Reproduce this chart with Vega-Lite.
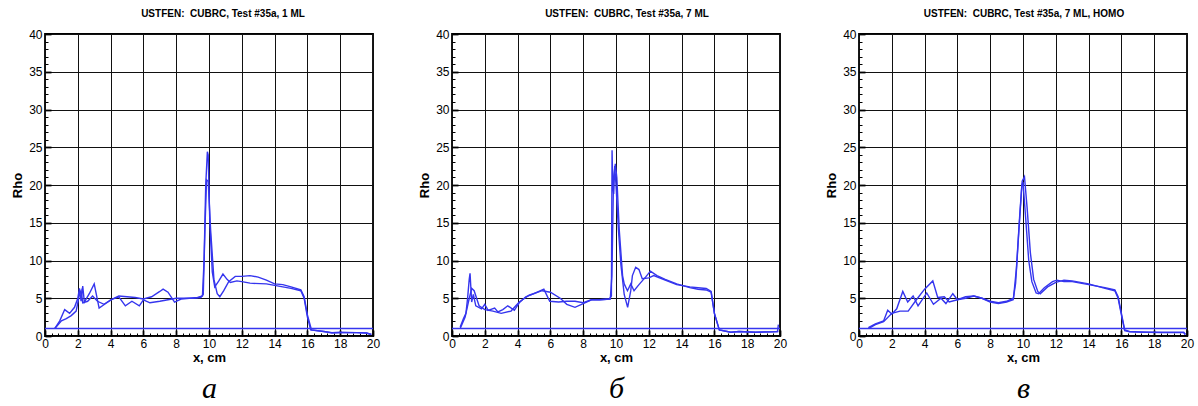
{
"$schema":"https://vega.github.io/schema/vega-lite/v6.json",
"autosize":{"type":"pad"},
"padding":{"left":10,"top":8,"right":0,"bottom":0},
"bounds":"flush",
"spacing":79,
"background":"white",
"config":{
 "view":{"stroke":"black","strokeWidth":1.8},
 "title":{"font":"Liberation Sans","fontSize":10,"fontWeight":"bold","color":"black","offset":9,"anchor":"middle"},
 "axis":{"labelFont":"Liberation Sans","labelFontSize":12,"labelColor":"black","labelFlush":false,"labelOverlap":false,"titleFont":"Liberation Sans","titleFontSize":13,"titleFontWeight":"bold","titleColor":"black","domain":false,"tickColor":"black","gridColor":"#111","gridOpacity":1,"gridWidth":1}
},
"datasets":{"d":[
{"p":"a","s":"base","x":0,"rho":1},{"p":"a","s":"base","x":20,"rho":1},
{"p":"b","s":"base","x":0,"rho":1},{"p":"b","s":"base","x":20,"rho":1},
{"p":"c","s":"base","x":0,"rho":1},{"p":"c","s":"base","x":20,"rho":1},
{"p":"a","s":"1","x":0.6,"rho":1.0},{"p":"a","s":"1","x":0.9,"rho":2.0},{"p":"a","s":"1","x":1.2,"rho":3.5},{"p":"a","s":"1","x":1.5,"rho":3.0},{"p":"a","s":"1","x":1.8,"rho":3.8},{"p":"a","s":"1","x":2.0,"rho":5.0},{"p":"a","s":"1","x":2.1,"rho":6.3},{"p":"a","s":"1","x":2.2,"rho":4.6},{"p":"a","s":"1","x":2.3,"rho":6.6},{"p":"a","s":"1","x":2.4,"rho":4.5},{"p":"a","s":"1","x":2.7,"rho":5.6},{"p":"a","s":"1","x":3.0,"rho":6.9},{"p":"a","s":"1","x":3.3,"rho":3.7},{"p":"a","s":"1","x":3.7,"rho":4.3},{"p":"a","s":"1","x":4.2,"rho":5.0},{"p":"a","s":"1","x":4.5,"rho":5.3},{"p":"a","s":"1","x":5.0,"rho":5.2},{"p":"a","s":"1","x":5.5,"rho":5.1},{"p":"a","s":"1","x":6.0,"rho":4.9},{"p":"a","s":"1","x":6.5,"rho":5.2},{"p":"a","s":"1","x":7.0,"rho":5.9},{"p":"a","s":"1","x":7.2,"rho":6.2},{"p":"a","s":"1","x":7.5,"rho":5.8},{"p":"a","s":"1","x":7.9,"rho":4.5},{"p":"a","s":"1","x":8.3,"rho":4.9},{"p":"a","s":"1","x":8.8,"rho":5.0},{"p":"a","s":"1","x":9.3,"rho":5.1},{"p":"a","s":"1","x":9.6,"rho":5.3},{"p":"a","s":"1","x":9.7,"rho":10},{"p":"a","s":"1","x":9.8,"rho":20},{"p":"a","s":"1","x":9.9,"rho":24.4},{"p":"a","s":"1","x":9.95,"rho":24.0},{"p":"a","s":"1","x":10.05,"rho":15},{"p":"a","s":"1","x":10.2,"rho":8.5},{"p":"a","s":"1","x":10.35,"rho":6.5},{"p":"a","s":"1","x":10.6,"rho":7.3},{"p":"a","s":"1","x":10.85,"rho":8.2},{"p":"a","s":"1","x":11.1,"rho":7.5},{"p":"a","s":"1","x":11.3,"rho":7.1},{"p":"a","s":"1","x":11.7,"rho":7.3},{"p":"a","s":"1","x":12.0,"rho":7.2},{"p":"a","s":"1","x":12.5,"rho":7.0},{"p":"a","s":"1","x":13.5,"rho":6.9},{"p":"a","s":"1","x":14.5,"rho":6.5},{"p":"a","s":"1","x":15.0,"rho":6.3},{"p":"a","s":"1","x":15.6,"rho":6.0},{"p":"a","s":"1","x":15.8,"rho":5.0},{"p":"a","s":"1","x":16.0,"rho":2.5},{"p":"a","s":"1","x":16.2,"rho":0.8},{"p":"a","s":"1","x":17.0,"rho":0.6},{"p":"a","s":"1","x":17.5,"rho":0.45},{"p":"a","s":"1","x":18.0,"rho":0.5},{"p":"a","s":"1","x":19.0,"rho":0.45},{"p":"a","s":"1","x":19.6,"rho":0.4},{"p":"a","s":"1","x":19.9,"rho":0.2},
{"p":"a","s":"2","x":0.6,"rho":1.0},{"p":"a","s":"2","x":1.0,"rho":2.0},{"p":"a","s":"2","x":1.3,"rho":2.3},{"p":"a","s":"2","x":1.6,"rho":2.7},{"p":"a","s":"2","x":1.9,"rho":3.3},{"p":"a","s":"2","x":2.1,"rho":5.5},{"p":"a","s":"2","x":2.2,"rho":6.0},{"p":"a","s":"2","x":2.3,"rho":4.4},{"p":"a","s":"2","x":2.6,"rho":4.6},{"p":"a","s":"2","x":2.9,"rho":5.3},{"p":"a","s":"2","x":3.2,"rho":4.6},{"p":"a","s":"2","x":3.6,"rho":4.2},{"p":"a","s":"2","x":4.0,"rho":4.8},{"p":"a","s":"2","x":4.5,"rho":5.2},{"p":"a","s":"2","x":4.9,"rho":4.0},{"p":"a","s":"2","x":5.3,"rho":4.6},{"p":"a","s":"2","x":5.75,"rho":4.0},{"p":"a","s":"2","x":6.0,"rho":4.8},{"p":"a","s":"2","x":6.4,"rho":4.4},{"p":"a","s":"2","x":7.0,"rho":4.6},{"p":"a","s":"2","x":7.5,"rho":4.8},{"p":"a","s":"2","x":8.0,"rho":5.0},{"p":"a","s":"2","x":8.5,"rho":5.0},{"p":"a","s":"2","x":9.0,"rho":5.0},{"p":"a","s":"2","x":9.5,"rho":5.1},{"p":"a","s":"2","x":9.65,"rho":5.5},{"p":"a","s":"2","x":9.75,"rho":14},{"p":"a","s":"2","x":9.85,"rho":20.7},{"p":"a","s":"2","x":9.95,"rho":20.5},{"p":"a","s":"2","x":10.1,"rho":14},{"p":"a","s":"2","x":10.3,"rho":7.5},{"p":"a","s":"2","x":10.5,"rho":5.6},{"p":"a","s":"2","x":10.66,"rho":5.2},{"p":"a","s":"2","x":10.9,"rho":6.0},{"p":"a","s":"2","x":11.2,"rho":7.2},{"p":"a","s":"2","x":11.6,"rho":7.9},{"p":"a","s":"2","x":12.0,"rho":7.9},{"p":"a","s":"2","x":12.5,"rho":8.0},{"p":"a","s":"2","x":13.0,"rho":7.8},{"p":"a","s":"2","x":13.5,"rho":7.4},{"p":"a","s":"2","x":14.0,"rho":6.9},{"p":"a","s":"2","x":14.5,"rho":6.8},{"p":"a","s":"2","x":15.0,"rho":6.5},{"p":"a","s":"2","x":15.6,"rho":6.1},{"p":"a","s":"2","x":15.8,"rho":5.2},{"p":"a","s":"2","x":16.0,"rho":2.8},{"p":"a","s":"2","x":16.25,"rho":0.8},{"p":"a","s":"2","x":17.0,"rho":0.6},{"p":"a","s":"2","x":17.5,"rho":0.4},{"p":"a","s":"2","x":18.0,"rho":0.45},{"p":"a","s":"2","x":19.0,"rho":0.45},{"p":"a","s":"2","x":19.6,"rho":0.4},{"p":"a","s":"2","x":19.9,"rho":0.2},
{"p":"b","s":"1","x":0.5,"rho":1.2},{"p":"b","s":"1","x":0.7,"rho":2.3},{"p":"b","s":"1","x":0.85,"rho":3.0},{"p":"b","s":"1","x":0.95,"rho":5.0},{"p":"b","s":"1","x":1.05,"rho":7.5},{"p":"b","s":"1","x":1.1,"rho":8.3},{"p":"b","s":"1","x":1.2,"rho":4.5},{"p":"b","s":"1","x":1.3,"rho":5.5},{"p":"b","s":"1","x":1.45,"rho":4.0},{"p":"b","s":"1","x":1.8,"rho":3.6},{"p":"b","s":"1","x":2.0,"rho":4.2},{"p":"b","s":"1","x":2.2,"rho":3.4},{"p":"b","s":"1","x":2.6,"rho":3.7},{"p":"b","s":"1","x":2.8,"rho":3.2},{"p":"b","s":"1","x":3.1,"rho":3.5},{"p":"b","s":"1","x":3.4,"rho":4.0},{"p":"b","s":"1","x":3.8,"rho":3.4},{"p":"b","s":"1","x":4.1,"rho":4.4},{"p":"b","s":"1","x":4.5,"rho":5.2},{"p":"b","s":"1","x":5.0,"rho":5.6},{"p":"b","s":"1","x":5.4,"rho":6.0},{"p":"b","s":"1","x":5.6,"rho":6.2},{"p":"b","s":"1","x":5.96,"rho":4.6},{"p":"b","s":"1","x":6.5,"rho":4.5},{"p":"b","s":"1","x":7.0,"rho":4.6},{"p":"b","s":"1","x":7.5,"rho":4.6},{"p":"b","s":"1","x":8.0,"rho":4.4},{"p":"b","s":"1","x":8.5,"rho":4.8},{"p":"b","s":"1","x":9.0,"rho":4.8},{"p":"b","s":"1","x":9.6,"rho":4.9},{"p":"b","s":"1","x":9.72,"rho":5.3},{"p":"b","s":"1","x":9.76,"rho":24.6},{"p":"b","s":"1","x":9.8,"rho":20},{"p":"b","s":"1","x":9.86,"rho":18.8},{"p":"b","s":"1","x":9.92,"rho":22.5},{"p":"b","s":"1","x":10.0,"rho":20},{"p":"b","s":"1","x":10.15,"rho":14},{"p":"b","s":"1","x":10.3,"rho":9.4},{"p":"b","s":"1","x":10.5,"rho":5.5},{"p":"b","s":"1","x":10.71,"rho":3.8},{"p":"b","s":"1","x":10.9,"rho":6.0},{"p":"b","s":"1","x":11.0,"rho":8.0},{"p":"b","s":"1","x":11.2,"rho":9.1},{"p":"b","s":"1","x":11.4,"rho":8.8},{"p":"b","s":"1","x":11.6,"rho":7.6},{"p":"b","s":"1","x":12.0,"rho":7.7},{"p":"b","s":"1","x":12.3,"rho":8.0},{"p":"b","s":"1","x":13.0,"rho":7.4},{"p":"b","s":"1","x":13.7,"rho":6.8},{"p":"b","s":"1","x":14.5,"rho":6.5},{"p":"b","s":"1","x":15.0,"rho":6.4},{"p":"b","s":"1","x":15.5,"rho":6.3},{"p":"b","s":"1","x":15.8,"rho":5.9},{"p":"b","s":"1","x":16.0,"rho":3.0},{"p":"b","s":"1","x":16.3,"rho":0.8},{"p":"b","s":"1","x":17.0,"rho":0.5},{"p":"b","s":"1","x":17.5,"rho":0.6},{"p":"b","s":"1","x":18.5,"rho":0.5},{"p":"b","s":"1","x":19.5,"rho":0.55},{"p":"b","s":"1","x":19.85,"rho":0.6},{"p":"b","s":"1","x":19.9,"rho":1.5},
{"p":"b","s":"2","x":0.5,"rho":1.0},{"p":"b","s":"2","x":0.8,"rho":2.5},{"p":"b","s":"2","x":1.0,"rho":4.5},{"p":"b","s":"2","x":1.2,"rho":6.3},{"p":"b","s":"2","x":1.35,"rho":6.0},{"p":"b","s":"2","x":1.5,"rho":5.0},{"p":"b","s":"2","x":1.65,"rho":4.0},{"p":"b","s":"2","x":2.0,"rho":3.5},{"p":"b","s":"2","x":2.5,"rho":3.3},{"p":"b","s":"2","x":3.0,"rho":3.0},{"p":"b","s":"2","x":3.6,"rho":3.3},{"p":"b","s":"2","x":4.1,"rho":4.5},{"p":"b","s":"2","x":4.7,"rho":5.4},{"p":"b","s":"2","x":5.5,"rho":6.0},{"p":"b","s":"2","x":6.0,"rho":5.8},{"p":"b","s":"2","x":6.6,"rho":5.0},{"p":"b","s":"2","x":7.0,"rho":4.2},{"p":"b","s":"2","x":7.5,"rho":3.8},{"p":"b","s":"2","x":8.0,"rho":4.3},{"p":"b","s":"2","x":8.5,"rho":4.8},{"p":"b","s":"2","x":9.0,"rho":4.8},{"p":"b","s":"2","x":9.65,"rho":4.9},{"p":"b","s":"2","x":9.75,"rho":8},{"p":"b","s":"2","x":9.85,"rho":21},{"p":"b","s":"2","x":9.96,"rho":22.8},{"p":"b","s":"2","x":10.05,"rho":21},{"p":"b","s":"2","x":10.2,"rho":14},{"p":"b","s":"2","x":10.4,"rho":8},{"p":"b","s":"2","x":10.5,"rho":6.9},{"p":"b","s":"2","x":10.7,"rho":6.0},{"p":"b","s":"2","x":10.9,"rho":6.9},{"p":"b","s":"2","x":11.1,"rho":6.0},{"p":"b","s":"2","x":11.4,"rho":6.8},{"p":"b","s":"2","x":11.8,"rho":7.8},{"p":"b","s":"2","x":12.1,"rho":8.6},{"p":"b","s":"2","x":12.5,"rho":8.0},{"p":"b","s":"2","x":13.0,"rho":7.5},{"p":"b","s":"2","x":13.7,"rho":6.9},{"p":"b","s":"2","x":14.5,"rho":6.4},{"p":"b","s":"2","x":15.0,"rho":6.2},{"p":"b","s":"2","x":15.5,"rho":6.1},{"p":"b","s":"2","x":15.8,"rho":5.8},{"p":"b","s":"2","x":16.0,"rho":3.0},{"p":"b","s":"2","x":16.3,"rho":0.8},{"p":"b","s":"2","x":17.0,"rho":0.5},{"p":"b","s":"2","x":17.5,"rho":0.6},{"p":"b","s":"2","x":18.5,"rho":0.5},{"p":"b","s":"2","x":19.5,"rho":0.55},{"p":"b","s":"2","x":19.9,"rho":0.6},
{"p":"c","s":"1","x":0.57,"rho":1.1},{"p":"c","s":"1","x":1.0,"rho":1.6},{"p":"c","s":"1","x":1.5,"rho":2.0},{"p":"c","s":"1","x":1.75,"rho":3.4},{"p":"c","s":"1","x":2.0,"rho":2.9},{"p":"c","s":"1","x":2.3,"rho":3.6},{"p":"c","s":"1","x":2.67,"rho":5.9},{"p":"c","s":"1","x":2.97,"rho":4.5},{"p":"c","s":"1","x":3.3,"rho":5.3},{"p":"c","s":"1","x":3.6,"rho":4.0},{"p":"c","s":"1","x":4.13,"rho":5.7},{"p":"c","s":"1","x":4.54,"rho":4.2},{"p":"c","s":"1","x":5.0,"rho":5.0},{"p":"c","s":"1","x":5.3,"rho":4.3},{"p":"c","s":"1","x":5.72,"rho":5.6},{"p":"c","s":"1","x":6.0,"rho":4.8},{"p":"c","s":"1","x":6.5,"rho":5.0},{"p":"c","s":"1","x":7.0,"rho":5.3},{"p":"c","s":"1","x":7.5,"rho":5.0},{"p":"c","s":"1","x":8.0,"rho":4.6},{"p":"c","s":"1","x":8.5,"rho":4.4},{"p":"c","s":"1","x":9.0,"rho":4.6},{"p":"c","s":"1","x":9.42,"rho":5.0},{"p":"c","s":"1","x":9.6,"rho":9},{"p":"c","s":"1","x":9.8,"rho":16},{"p":"c","s":"1","x":9.93,"rho":20.0},{"p":"c","s":"1","x":10.0,"rho":20.4},{"p":"c","s":"1","x":10.15,"rho":16},{"p":"c","s":"1","x":10.35,"rho":10},{"p":"c","s":"1","x":10.54,"rho":7.2},{"p":"c","s":"1","x":10.8,"rho":5.7},{"p":"c","s":"1","x":10.95,"rho":5.6},{"p":"c","s":"1","x":11.3,"rho":6.4},{"p":"c","s":"1","x":11.8,"rho":7.2},{"p":"c","s":"1","x":12.07,"rho":7.4},{"p":"c","s":"1","x":12.5,"rho":7.2},{"p":"c","s":"1","x":13.0,"rho":7.2},{"p":"c","s":"1","x":13.5,"rho":7.0},{"p":"c","s":"1","x":14.0,"rho":6.8},{"p":"c","s":"1","x":14.5,"rho":6.6},{"p":"c","s":"1","x":15.0,"rho":6.4},{"p":"c","s":"1","x":15.6,"rho":6.1},{"p":"c","s":"1","x":15.8,"rho":5.2},{"p":"c","s":"1","x":16.0,"rho":3.0},{"p":"c","s":"1","x":16.2,"rho":0.8},{"p":"c","s":"1","x":16.5,"rho":0.6},{"p":"c","s":"1","x":17.5,"rho":0.5},{"p":"c","s":"1","x":18.5,"rho":0.5},{"p":"c","s":"1","x":19.8,"rho":0.5},{"p":"c","s":"1","x":19.9,"rho":0.2},
{"p":"c","s":"2","x":0.6,"rho":1.0},{"p":"c","s":"2","x":1.0,"rho":1.5},{"p":"c","s":"2","x":1.5,"rho":1.9},{"p":"c","s":"2","x":2.0,"rho":3.0},{"p":"c","s":"2","x":2.5,"rho":3.3},{"p":"c","s":"2","x":3.0,"rho":3.3},{"p":"c","s":"2","x":3.5,"rho":4.8},{"p":"c","s":"2","x":4.0,"rho":6.2},{"p":"c","s":"2","x":4.5,"rho":7.3},{"p":"c","s":"2","x":4.8,"rho":5.1},{"p":"c","s":"2","x":5.2,"rho":5.2},{"p":"c","s":"2","x":5.5,"rho":4.5},{"p":"c","s":"2","x":6.0,"rho":4.8},{"p":"c","s":"2","x":6.5,"rho":5.2},{"p":"c","s":"2","x":7.0,"rho":5.3},{"p":"c","s":"2","x":7.5,"rho":5.0},{"p":"c","s":"2","x":8.0,"rho":4.5},{"p":"c","s":"2","x":8.5,"rho":4.3},{"p":"c","s":"2","x":9.0,"rho":4.5},{"p":"c","s":"2","x":9.4,"rho":4.8},{"p":"c","s":"2","x":9.55,"rho":7},{"p":"c","s":"2","x":9.75,"rho":14},{"p":"c","s":"2","x":9.95,"rho":20.5},{"p":"c","s":"2","x":10.09,"rho":21.1},{"p":"c","s":"2","x":10.25,"rho":17},{"p":"c","s":"2","x":10.45,"rho":11},{"p":"c","s":"2","x":10.65,"rho":7.5},{"p":"c","s":"2","x":10.9,"rho":5.9},{"p":"c","s":"2","x":11.05,"rho":5.6},{"p":"c","s":"2","x":11.5,"rho":6.5},{"p":"c","s":"2","x":12.0,"rho":7.1},{"p":"c","s":"2","x":12.5,"rho":7.4},{"p":"c","s":"2","x":13.0,"rho":7.3},{"p":"c","s":"2","x":13.5,"rho":7.1},{"p":"c","s":"2","x":14.0,"rho":6.9},{"p":"c","s":"2","x":14.5,"rho":6.6},{"p":"c","s":"2","x":15.0,"rho":6.3},{"p":"c","s":"2","x":15.6,"rho":6.0},{"p":"c","s":"2","x":15.8,"rho":5.0},{"p":"c","s":"2","x":16.0,"rho":2.8},{"p":"c","s":"2","x":16.2,"rho":0.7},{"p":"c","s":"2","x":16.5,"rho":0.55},{"p":"c","s":"2","x":17.5,"rho":0.5},{"p":"c","s":"2","x":18.5,"rho":0.45},{"p":"c","s":"2","x":19.8,"rho":0.45},{"p":"c","s":"2","x":19.9,"rho":0.2}
]},
"hconcat":[
{"title":{"text":"USTFEN:\u00a0 CUBRC, Test #35a, 1 ML","dx":14},
 "width":328,"height":302,"data":{"name":"d"},
 "transform":[{"filter":"datum.p==='a'"}],
 "layer":[
  {"transform":[{"filter":"datum.s!=='base'"}],
   "mark":{"type":"line","color":"#3535ee","strokeWidth":1.4},
   "encoding":{
    "x":{"field":"x","type":"quantitative","scale":{"domain":[0,20],"nice":false},"axis":{"title":"x, cm","values":[0,2,4,6,8,10,12,14,16,18,20],"grid":true,"tickSize":-6,"tickWidth":1.8,"labelPadding":8,"titlePadding":2}},
    "y":{"field":"rho","type":"quantitative","scale":{"domain":[0,40],"nice":false},"axis":{"title":"Rho","values":[0,5,10,15,20,25,30,35,40],"grid":true,"tickSize":-6,"tickWidth":1.8,"labelPadding":9,"titlePadding":4}},
    "detail":{"field":"s"}}},
  {"transform":[{"filter":"datum.s==='base'"}],
   "mark":{"type":"line","color":"#3535ee","strokeWidth":1.4},
   "encoding":{
    "x":{"field":"x","type":"quantitative","axis":{"orient":"bottom","values":[0,0.4,0.8,1.2,1.6,2,2.4,2.8,3.2,3.6,4,4.4,4.8,5.2,5.6,6,6.4,6.8,7.2,7.6,8,8.4,8.8,9.2,9.6,10,10.4,10.8,11.2,11.6,12,12.4,12.8,13.2,13.6,14,14.4,14.8,15.2,15.6,16,16.4,16.8,17.2,17.6,18,18.4,18.8,19.2,19.6,20],"labels":false,"grid":false,"tickSize":-3,"tickWidth":1,"title":"а","titleFont":"Liberation Serif","titleFontStyle":"italic","titleFontWeight":"normal","titleFontSize":30,"titlePadding":37}},
    "y":{"field":"rho","type":"quantitative","axis":{"orient":"left","values":[0,1,2,3,4,5,6,7,8,9,10,11,12,13,14,15,16,17,18,19,20,21,22,23,24,25,26,27,28,29,30,31,32,33,34,35,36,37,38,39,40],"labels":false,"grid":false,"tickSize":-3,"tickWidth":1,"title":null}}}}
 ],
 "resolve":{"axis":{"x":"independent","y":"independent"}}},
{"title":{"text":"USTFEN:\u00a0 CUBRC, Test #35a, 7 ML","dx":11},
 "width":328,"height":302,"data":{"name":"d"},
 "transform":[{"filter":"datum.p==='b'"}],
 "layer":[
  {"transform":[{"filter":"datum.s!=='base'"}],
   "mark":{"type":"line","color":"#3535ee","strokeWidth":1.4},
   "encoding":{
    "x":{"field":"x","type":"quantitative","scale":{"domain":[0,20],"nice":false},"axis":{"title":"x, cm","values":[0,2,4,6,8,10,12,14,16,18,20],"grid":true,"tickSize":-6,"tickWidth":1.8,"labelPadding":8,"titlePadding":2}},
    "y":{"field":"rho","type":"quantitative","scale":{"domain":[0,40],"nice":false},"axis":{"title":"Rho","values":[0,5,10,15,20,25,30,35,40],"grid":true,"tickSize":-6,"tickWidth":1.8,"labelPadding":9,"titlePadding":4}},
    "detail":{"field":"s"}}},
  {"transform":[{"filter":"datum.s==='base'"}],
   "mark":{"type":"line","color":"#3535ee","strokeWidth":1.4},
   "encoding":{
    "x":{"field":"x","type":"quantitative","axis":{"orient":"bottom","values":[0,0.4,0.8,1.2,1.6,2,2.4,2.8,3.2,3.6,4,4.4,4.8,5.2,5.6,6,6.4,6.8,7.2,7.6,8,8.4,8.8,9.2,9.6,10,10.4,10.8,11.2,11.6,12,12.4,12.8,13.2,13.6,14,14.4,14.8,15.2,15.6,16,16.4,16.8,17.2,17.6,18,18.4,18.8,19.2,19.6,20],"labels":false,"grid":false,"tickSize":-3,"tickWidth":1,"title":"б","titleFont":"Liberation Serif","titleFontStyle":"italic","titleFontWeight":"normal","titleFontSize":30,"titlePadding":37}},
    "y":{"field":"rho","type":"quantitative","axis":{"orient":"left","values":[0,1,2,3,4,5,6,7,8,9,10,11,12,13,14,15,16,17,18,19,20,21,22,23,24,25,26,27,28,29,30,31,32,33,34,35,36,37,38,39,40],"labels":false,"grid":false,"tickSize":-3,"tickWidth":1,"title":null}}}}
 ],
 "resolve":{"axis":{"x":"independent","y":"independent"}}},
{"title":{"text":"USTFEN:\u00a0 CUBRC, Test #35a, 7 ML, HOMO","dx":1},
 "width":328,"height":302,"data":{"name":"d"},
 "transform":[{"filter":"datum.p==='c'"}],
 "layer":[
  {"transform":[{"filter":"datum.s!=='base'"}],
   "mark":{"type":"line","color":"#3535ee","strokeWidth":1.4},
   "encoding":{
    "x":{"field":"x","type":"quantitative","scale":{"domain":[0,20],"nice":false},"axis":{"title":"x, cm","values":[0,2,4,6,8,10,12,14,16,18,20],"grid":true,"tickSize":-6,"tickWidth":1.8,"labelPadding":8,"titlePadding":2}},
    "y":{"field":"rho","type":"quantitative","scale":{"domain":[0,40],"nice":false},"axis":{"title":"Rho","values":[0,5,10,15,20,25,30,35,40],"grid":true,"tickSize":-6,"tickWidth":1.8,"labelPadding":9,"titlePadding":4}},
    "detail":{"field":"s"}}},
  {"transform":[{"filter":"datum.s==='base'"}],
   "mark":{"type":"line","color":"#3535ee","strokeWidth":1.4},
   "encoding":{
    "x":{"field":"x","type":"quantitative","axis":{"orient":"bottom","values":[0,0.4,0.8,1.2,1.6,2,2.4,2.8,3.2,3.6,4,4.4,4.8,5.2,5.6,6,6.4,6.8,7.2,7.6,8,8.4,8.8,9.2,9.6,10,10.4,10.8,11.2,11.6,12,12.4,12.8,13.2,13.6,14,14.4,14.8,15.2,15.6,16,16.4,16.8,17.2,17.6,18,18.4,18.8,19.2,19.6,20],"labels":false,"grid":false,"tickSize":-3,"tickWidth":1,"title":"в","titleFont":"Liberation Serif","titleFontStyle":"italic","titleFontWeight":"normal","titleFontSize":30,"titlePadding":37}},
    "y":{"field":"rho","type":"quantitative","axis":{"orient":"left","values":[0,1,2,3,4,5,6,7,8,9,10,11,12,13,14,15,16,17,18,19,20,21,22,23,24,25,26,27,28,29,30,31,32,33,34,35,36,37,38,39,40],"labels":false,"grid":false,"tickSize":-3,"tickWidth":1,"title":null}}}}
 ],
 "resolve":{"axis":{"x":"independent","y":"independent"}}}
]
}
